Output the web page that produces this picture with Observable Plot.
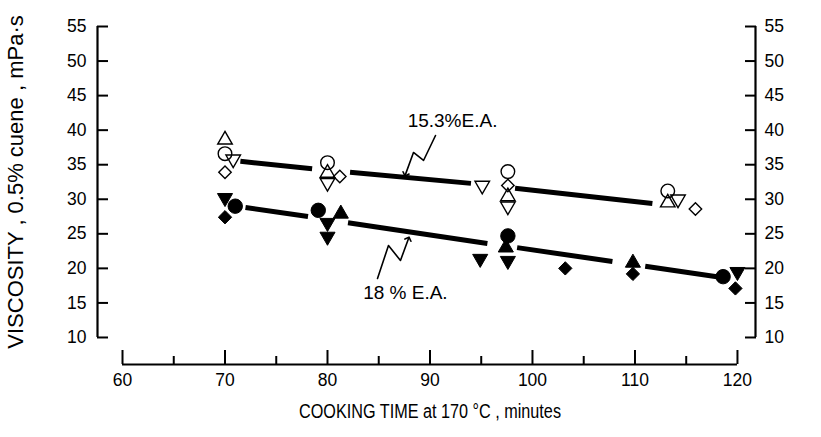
<!DOCTYPE html>
<html><head><meta charset="utf-8">
<script src="https://cdn.jsdelivr.net/npm/d3@7"></script>
<script src="https://cdn.jsdelivr.net/npm/@observablehq/plot@0.6"></script>
<style>
body{margin:0;background:#fff}
svg{font-family:"Liberation Sans",Arial,sans-serif}
</style>
</head><body><div id="chart"></div>
<script>
// ---- ticks ----
const xTicks = [60, 70, 80, 90, 100, 110, 120];
const xMinorTicks = [65, 75, 85, 95, 105, 115];
const yTicks = [10, 15, 20, 25, 30, 35, 40, 45, 50, 55];

// ---- 15.3 % E.A. (open symbols): [minutes, viscosity] ----
const open15Circle   = [[70, 36.6], [80, 35.3], [97.6, 34.0], [113.2, 31.2]];
const open15TriUp    = [[70, 38.6], [80, 33.8], [97.6, 30.4], [113.2, 29.5]];
const open15TriDown  = [[70.8, 35.8], [80, 32.4], [95.1, 32.0], [97.6, 29.0], [114.2, 30.0]];
const open15Diamond  = [[70, 33.9], [81.2, 33.3], [97.6, 32.0], [115.9, 28.6]];

// ---- 18 % E.A. (filled symbols) ----
const fill18Circle   = [[71, 29.0], [79.1, 28.4], [97.6, 24.7], [118.6, 18.8]];
const fill18TriUp    = [[81.3, 27.9], [97.4, 23.0], [109.8, 20.8]];
const fill18TriDown  = [[70, 30.2], [80, 26.6], [80, 24.6], [94.9, 21.4], [97.6, 21.1], [120, 19.5]];
const fill18Diamond  = [[70, 27.4], [103.2, 20.0], [109.8, 19.2], [119.8, 17.1]];

// ---- fitted lines (drawn dashed between the point clusters) ----
const fit15Segments = [
  [[71.5, 35.5], [78.5, 34.4]],
  [[82.2, 33.9], [94.0, 32.3]],
  [[98.3, 31.6], [111.7, 29.4]]
];
const fit18Segments = [
  [[72.0, 28.8], [78.1, 27.5]],
  [[82.0, 26.6], [95.6, 23.6]],
  [[98.5, 23.0], [107.8, 21.0]],
  [[111.0, 20.3], [118.0, 18.8]]
];

// ---- callouts ----
const labels15 = [{x: 92.2, y: 41.4, text: "15.3%E.A."}];
const labels18 = [{x: 87.6, y: 16.4, text: "18 % E.A."}];
const arrow15 = [[90.54, 39.23], [89.37, 35.61], [88.39, 36.77], [87.61, 33.6]];
const arrow18 = [[84.88, 18.54], [85.95, 23.31], [87.12, 21.14], [87.90, 24.3]];

const xLabel = "COOKING TIME at 170 °C , minutes";
const yLabel = "VISCOSITY , 0.5% cuene , mPa·s";

// ---- build tables ----
const pts = a => a.map(([x, y]) => ({x, y}));
const segRows = segs => segs.flatMap((s, i) => s.map(([x, y]) => ({x, y, seg: i})));

const xDomain = [57.56, 121.76];
const yDomain = [6.09, 55];

const symbolSets = [
  {data: open15Circle,  symbol: "circle",   rotate: 0,   filled: false, r: 6.8},
  {data: open15TriUp,   symbol: "triangle", rotate: 0,   filled: false, r: 5.4},
  {data: open15TriDown, symbol: "triangle", rotate: 180, filled: false, r: 5.4},
  {data: open15Diamond, symbol: "diamond2", rotate: 0,   filled: false, r: 5.6},
  {data: fill18Circle,  symbol: "circle",   rotate: 0,   filled: true,  r: 7.2},
  {data: fill18TriUp,   symbol: "triangle", rotate: 0,   filled: true,  r: 5.6},
  {data: fill18TriDown, symbol: "triangle", rotate: 180, filled: true,  r: 5.6},
  {data: fill18Diamond, symbol: "diamond2", rotate: 0,   filled: true,  r: 6.0}
];

const noText = () => "";

const chart = Plot.plot({
  width: 821,
  height: 437,
  marginLeft: 97,
  marginRight: 66,
  marginTop: 26,
  marginBottom: 73,
  x: {domain: xDomain, axis: null},
  y: {domain: yDomain, axis: null},
  style: {fontFamily: "Liberation Sans, Arial, sans-serif", color: "#000", background: "#fff"},
  marks: [
    // left & right axis lines
    Plot.ruleX([xDomain[0]], {y1: yTicks[0], y2: yTicks[yTicks.length - 1], strokeWidth: 2.2}),
    Plot.ruleX([xDomain[1]], {y1: yTicks[0], y2: yTicks[yTicks.length - 1], strokeWidth: 2.2}),
    Plot.axisY(yTicks, {anchor: "left", tickSize: -11, tickFormat: noText, strokeWidth: 2, label: null}),
    Plot.axisY(yTicks, {anchor: "left", tickSize: 0, tickPadding: 11, fontSize: 17.5, label: null}),
    Plot.axisY(yTicks, {anchor: "right", tickSize: -11, tickFormat: noText, strokeWidth: 2, label: null}),
    Plot.axisY(yTicks, {anchor: "right", tickSize: 0, tickPadding: 9, fontSize: 17.5, label: null}),
    // bottom axis
    Plot.ruleY([yDomain[0]], {x1: xTicks[0], x2: xTicks[xTicks.length - 1], strokeWidth: 2}),
    Plot.axisX(xTicks, {anchor: "bottom", tickSize: -14, tickFormat: noText, strokeWidth: 2, label: null}),
    Plot.axisX(xMinorTicks, {anchor: "bottom", tickSize: -8, tickFormat: noText, strokeWidth: 2, label: null}),
    Plot.axisX(xTicks, {anchor: "bottom", tickSize: 0, tickPadding: 9, fontSize: 17.5, label: null}),
    // axis titles
    Plot.text([xLabel], {x: () => d3.mean(xTicks), text: d => d, frameAnchor: "bottom", dy: 53, fontSize: 19.5}),
    Plot.text([yLabel], {y: () => d3.mean(yTicks), text: d => d, frameAnchor: "left", textAnchor: "middle",
      dx: -82, rotate: -90, fontSize: 22}),
    // fitted lines
    Plot.line(segRows(fit15Segments), {x: "x", y: "y", z: "seg", strokeWidth: 5, strokeLinecap: "butt"}),
    Plot.line(segRows(fit18Segments), {x: "x", y: "y", z: "seg", strokeWidth: 5, strokeLinecap: "butt"}),
    // callouts
    Plot.line(pts(arrow15), {x: "x", y: "y", strokeWidth: 1.6, markerEnd: "arrow"}),
    Plot.line(pts(arrow18), {x: "x", y: "y", strokeWidth: 1.6, markerEnd: "arrow"}),
    Plot.text(labels15, {x: "x", y: "y", text: "text", fontSize: 19}),
    Plot.text(labels18, {x: "x", y: "y", text: "text", fontSize: 19}),
    // data symbols
    ...symbolSets.map(s => Plot.dot(pts(s.data), {
      x: "x", y: "y", symbol: s.symbol, r: s.r, rotate: s.rotate,
      fill: s.filled ? "#000" : "none", stroke: "#000", strokeWidth: s.filled ? 1 : 1.4
    }))
  ]
});
// the reference's x title is set in a condensed face: squeeze it a little
d3.select(chart).selectAll("text").filter(function () { return this.textContent === xLabel; })
  .attr("textLength", 262).attr("lengthAdjust", "spacingAndGlyphs");
document.getElementById("chart").appendChild(chart);
</script>
</body></html>
